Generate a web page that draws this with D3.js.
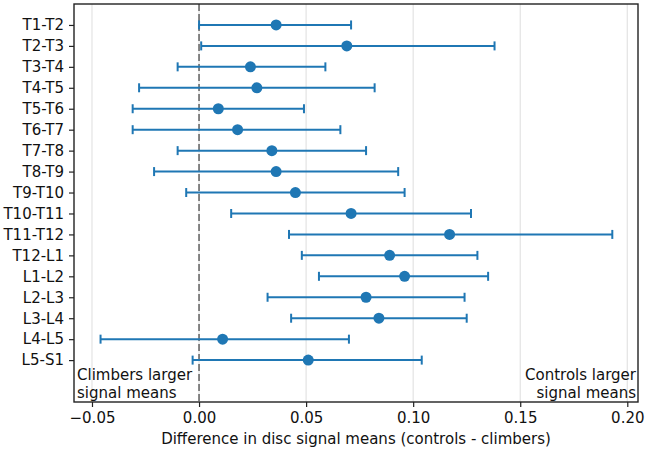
<!DOCTYPE html>
<html>
<head>
<meta charset="utf-8">
<script src="https://cdn.jsdelivr.net/npm/d3@7"></script>
<style>
  body { margin: 0; background: #fff; }
  svg { display: block; font-family: "DejaVu Sans", sans-serif; }
  .axis text { font-size: 15px; fill: #111; font-family: "DejaVu Sans", sans-serif; }
  .axis path, .axis line { stroke: #222; stroke-width: 1.2; }
</style>
</head>
<body>
<div id="chartArea"></div>
<script>
// disc pairs, top to bottom
let segments = ['T1-T2', 'T2-T3', 'T3-T4', 'T4-T5', 'T5-T6', 'T6-T7', 'T7-T8', 'T8-T9',
    'T9-T10', 'T10-T11', 'T11-T12', 'T12-L1', 'L1-L2', 'L2-L3', 'L3-L4', 'L4-L5', 'L5-S1'];
let meanDiff = [0.036, 0.069, 0.024, 0.027, 0.009, 0.018, 0.034, 0.036,
    0.045, 0.071, 0.117, 0.089, 0.096, 0.078, 0.084, 0.011, 0.051];
let ciLow = [0.000, 0.001, -0.010, -0.028, -0.031, -0.031, -0.010, -0.021,
    -0.006, 0.015, 0.042, 0.048, 0.056, 0.032, 0.043, -0.046, -0.003];
let ciHigh = [0.071, 0.138, 0.059, 0.082, 0.049, 0.066, 0.078, 0.093,
    0.096, 0.127, 0.193, 0.130, 0.135, 0.124, 0.125, 0.070, 0.104];
let xTicks = [-0.05, 0.00, 0.05, 0.10, 0.15, 0.20];

let margins = { top: 4, right: 8, bottom: 51, left: 74 };
let width = 646 - margins.left - margins.right,
    height = 453 - margins.top - margins.bottom;

let svg = d3.select('#chartArea').append('svg')
    .attr('width', 646)
    .attr('height', 453);
let chart = svg.append('g')
    .attr('transform', 'translate(' + margins.left + ',' + margins.top + ')');

let xScale = d3.scaleLinear().domain([-0.0584, 0.2050]).range([0, width]);
let yScale = d3.scaleLinear().domain([-1, 18]).range([0, height]);

let blue = '#1f77b4';

// grid
chart.append('g').selectAll('line')
    .data(xTicks)
    .join('line')
        .attr('x1', d => xScale(d)).attr('x2', d => xScale(d))
        .attr('y1', 0).attr('y2', height)
        .attr('stroke', '#e3e3e3')
        .attr('stroke-width', 1.2);

// zero line
chart.append('line')
    .attr('x1', xScale(0)).attr('x2', xScale(0))
    .attr('y1', 0).attr('y2', height)
    .attr('stroke', '#7a7a7a')
    .attr('stroke-width', 1.8)
    .attr('stroke-dasharray', '7,3');

// error bars
let rows = segments.map((s, i) => ({ name: s, i: i, mean: meanDiff[i], lo: ciLow[i], hi: ciHigh[i] }));
let bars = chart.append('g').selectAll('g')
    .data(rows)
    .join('g');

bars.append('line')
    .attr('x1', d => xScale(d.lo)).attr('x2', d => xScale(d.hi))
    .attr('y1', d => yScale(d.i)).attr('y2', d => yScale(d.i))
    .attr('stroke', blue).attr('stroke-width', 2);

bars.selectAll('.cap')
    .data(d => [{ v: d.lo, i: d.i }, { v: d.hi, i: d.i }])
    .join('line')
        .attr('class', 'cap')
        .attr('x1', d => xScale(d.v)).attr('x2', d => xScale(d.v))
        .attr('y1', d => yScale(d.i) - 4.5).attr('y2', d => yScale(d.i) + 4.5)
        .attr('stroke', blue).attr('stroke-width', 2);

bars.append('circle')
    .attr('cx', d => xScale(d.mean))
    .attr('cy', d => yScale(d.i))
    .attr('r', 5.5)
    .attr('fill', blue);

// axes
chart.append('g')
    .attr('class', 'x axis')
    .attr('transform', 'translate(0,' + height + ')')
    .call(d3.axisBottom(xScale).tickValues(xTicks).tickSize(5).tickPadding(5)
        .tickFormat(d => d3.format('.2f')(d).replace('-', '\u2212')))
    .call(g => g.select('.domain').remove());

chart.append('g')
    .attr('class', 'y axis')
    .call(d3.axisLeft(yScale).tickValues(d3.range(segments.length)).tickSize(5).tickPadding(5)
        .tickFormat(i => segments[i]))
    .call(g => g.select('.domain').remove());

// frame
chart.append('rect')
    .attr('width', width).attr('height', height)
    .attr('fill', 'none')
    .attr('stroke', '#222')
    .attr('stroke-width', 1.4);

// annotations
let leftNote = chart.append('text')
    .attr('font-size', 15)
    .attr('fill', '#111');
leftNote.append('tspan').attr('x', 3).attr('y', yScale(16.95)).text('Climbers larger');
leftNote.append('tspan').attr('x', 3).attr('y', yScale(17.8)).text('signal means');

let rightNote = chart.append('text')
    .attr('text-anchor', 'end')
    .attr('font-size', 15)
    .attr('fill', '#111');
rightNote.append('tspan').attr('x', width - 2).attr('y', yScale(16.95)).text('Controls larger');
rightNote.append('tspan').attr('x', width - 2).attr('y', yScale(17.8)).text('signal means');

svg.append('text')
    .attr('x', margins.left + width / 2)
    .attr('y', 444)
    .attr('text-anchor', 'middle')
    .attr('font-size', 15)
    .attr('fill', '#111')
    .text('Difference in disc signal means (controls - climbers)');
</script>
</body>
</html>
